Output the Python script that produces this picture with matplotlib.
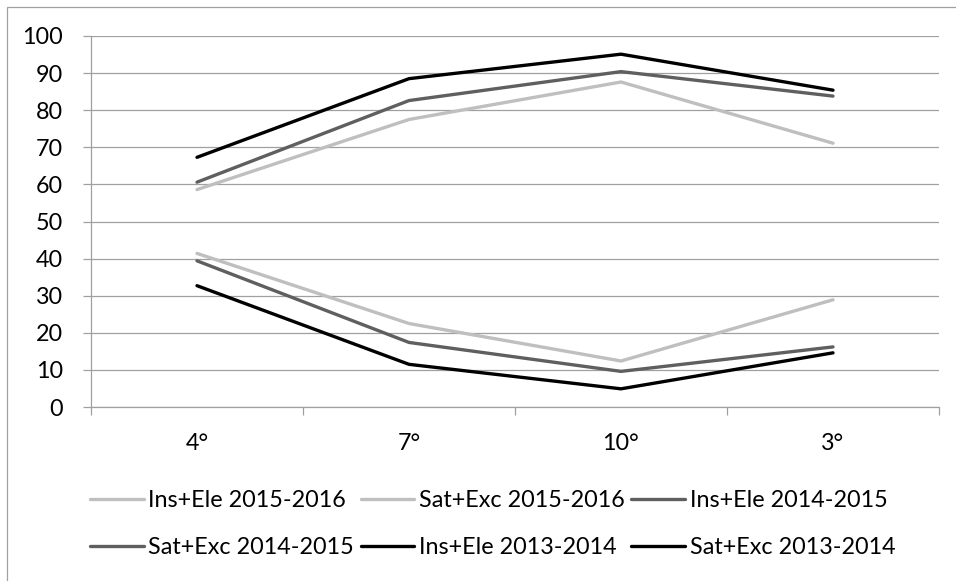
import matplotlib
matplotlib.use("Agg")
import matplotlib.pyplot as plt
from matplotlib.patches import Rectangle

categories = ["4°", "7°", "10°", "3°"]
series_names = ["Ins+Ele 2015-2016", "Sat+Exc 2015-2016", "Ins+Ele 2014-2015",
                "Sat+Exc 2014-2015", "Ins+Ele 2013-2014", "Sat+Exc 2013-2014"]
ins_ele_2015_2016 = [58.6, 77.5, 87.6, 71.1]
sat_exc_2015_2016 = [41.4, 22.5, 12.4, 28.9]
ins_ele_2014_2015 = [60.6, 82.6, 90.4, 83.8]
sat_exc_2014_2015 = [39.4, 17.4, 9.6, 16.2]
ins_ele_2013_2014 = [67.3, 88.5, 95.1, 85.4]
sat_exc_2013_2014 = [32.7, 11.5, 4.9, 14.6]
y_ticks = list(range(0, 101, 10))

values = [ins_ele_2015_2016, sat_exc_2015_2016, ins_ele_2014_2015,
          sat_exc_2014_2015, ins_ele_2013_2014, sat_exc_2013_2014]
colors = ["#BFBFBF", "#BFBFBF", "#5F5F5F", "#5F5F5F", "#000000", "#000000"]

plt.rcParams['font.family'] = ['Lato', 'DejaVu Sans']
FS = 16.8

fig = plt.figure(figsize=(9.56, 5.81), dpi=100)
W, H = 956, 581
ax = fig.add_axes([91 / W, 1 - 407 / H, (939 - 91) / W, (407 - 36) / H])

grid_c = "#A0A0A0"
x = list(range(len(categories)))
handles = []
for name, vals, c in zip(series_names, values, colors):
    h, = ax.plot(x, vals, color=c, lw=2.4, label=name, solid_capstyle='round', zorder=3)
    handles.append(h)

ax.set_xlim(-0.5, len(categories) - 0.5)
ax.set_ylim(0, 100)
ax.set_yticks(y_ticks)
ax.set_yticklabels([str(v) for v in y_ticks])
ax.yaxis.grid(True, color=grid_c, lw=0.9)
ax.set_axisbelow(True)

ax.set_xticks(x)
ax.set_xticklabels(categories)
ax.set_xticks([i - 0.5 for i in range(len(categories) + 1)], minor=True)
ax.tick_params(axis='x', which='major', length=0, pad=19, labelsize=FS)
ax.tick_params(axis='x', which='minor', length=6, width=0.9, color=grid_c, direction='out')
ax.tick_params(axis='y', length=6, width=0.9, color=grid_c, pad=14, labelsize=FS)

for s in ['top', 'right']:
    ax.spines[s].set_visible(False)
for s in ['left', 'bottom']:
    ax.spines[s].set_color(grid_c)
    ax.spines[s].set_linewidth(0.9)

order = [0, 3, 1, 4, 2, 5]
leg = fig.legend([handles[i] for i in order], [series_names[i] for i in order],
                 ncol=3, loc='upper left', bbox_to_anchor=(90 / W, 1 - 490 / H),
                 frameon=False, fontsize=FS, handlelength=2.3, handletextpad=0.2,
                 columnspacing=0.28, labelspacing=1.1, borderaxespad=0, borderpad=0)

fig.patches.append(Rectangle((7 / W, -0.1), 2.0, (1 - 7 / H) + 0.1, transform=fig.transFigure,
                             fill=False, edgecolor="#A0A0A0", lw=0.9))

fig.savefig("out.png", dpi=100)
